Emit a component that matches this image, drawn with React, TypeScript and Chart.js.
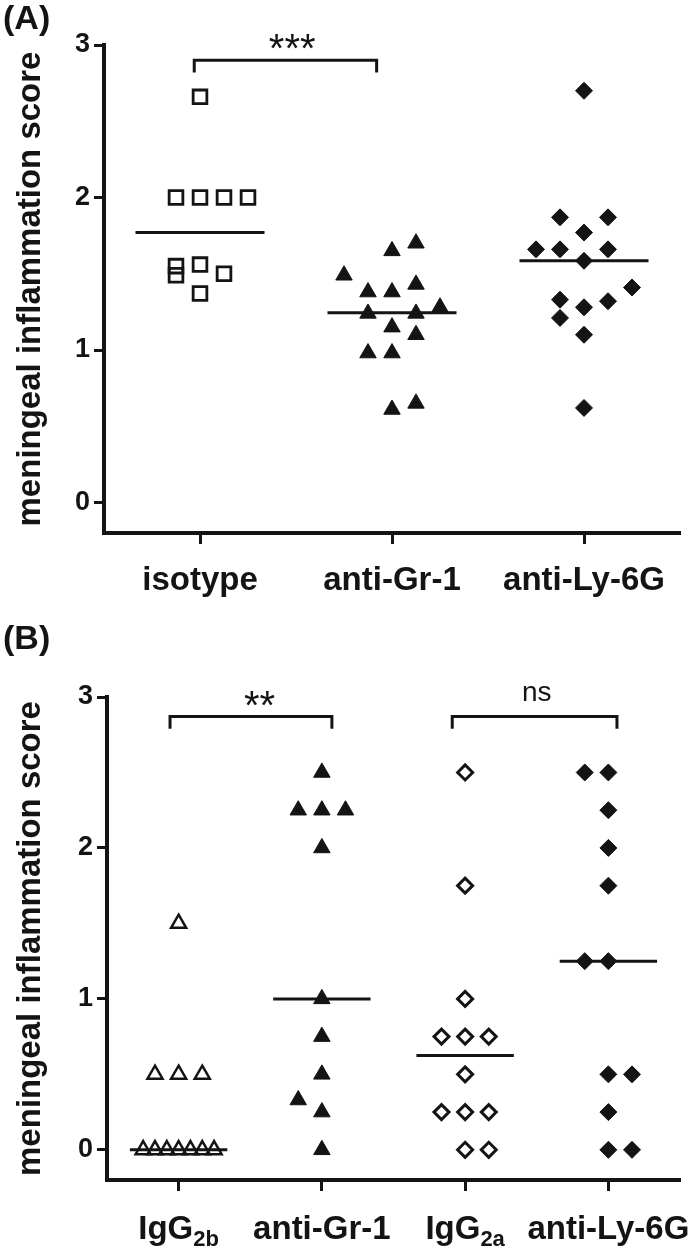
import React, { useEffect, useRef } from 'react';
import { Chart, registerables } from 'chart.js';

Chart.register(...registerables);

const FONT = '"Liberation Sans", Arial, Helvetica, sans-serif';
const INK = '#141414';

// ---------------- Panel A data ----------------
const catsA = ['isotype', 'anti-Gr-1', 'anti-Ly-6G'];
const isotypeVals = [2.66, 2.0, 2.0, 2.0, 2.0, 1.55, 1.49, 1.56, 1.5, 1.37];
const isotypeSlots = [0, -1, 0, 1, 2, -1, -1, 0, 1, 0];
const antiGr1AVals = [1.7, 1.65, 1.49, 1.38, 1.38, 1.43, 1.28, 1.24, 1.24, 1.15, 1.1, 0.98, 0.98, 0.65, 0.61];
const antiGr1ASlots = [1, 0, -2, -1, 0, 1, 2, -1, 1, 0, 1, -1, 0, 1, 0];
const antiLy6GAVals = [2.7, 1.87, 1.87, 1.77, 1.66, 1.66, 1.66, 1.585, 1.41, 1.33, 1.32, 1.28, 1.21, 1.1, 0.62];
const antiLy6GASlots = [0, -1, 1, 0, -2, -1, 1, 0, 2, -1, 1, 0, -1, 0, 0];
const meansA = [1.77, 1.245, 1.585];

// ---------------- Panel B data ----------------
const catsB = ['IgG', 'anti-Gr-1', 'IgG', 'anti-Ly-6G'];
const catsBSub = ['2b', '', '2a', ''];
const igG2bVals = [1.5, 0.5, 0.5, 0.5, 0, 0, 0, 0, 0, 0, 0];
const igG2bSlots = [0, -1, 0, 1, -1.5, -1, -0.5, 0, 0.5, 1, 1.5];
const antiGr1BVals = [2.5, 2.25, 2.25, 2.25, 2.0, 1.0, 0.75, 0.5, 0.33, 0.25, 0];
const antiGr1BSlots = [0, -1, 0, 1, 0, 0, 0, 0, -1, 0, 0];
const igG2aVals = [2.5, 1.75, 1.0, 0.75, 0.75, 0.75, 0.5, 0.25, 0.25, 0.25, 0, 0];
const igG2aSlots = [0, 0, 0, -1, 0, 1, 0, -1, 0, 1, 0, 1];
const antiLy6GBVals = [2.5, 2.5, 2.25, 2.0, 1.75, 1.25, 1.25, 0.5, 0.5, 0.25, 0, 0];
const antiLy6GBSlots = [-1, 0, 0, 0, 0, -1, 0, 0, 1, 0, 0, 1];
const meansB = [0, 1.0, 0.625, 1.25];

const yTickValues = [0, 1, 2, 3];
const yTitle = 'meningeal inflammation score';

type Group = { vals: number[]; slots: number[]; style: string; radius: number; open: boolean; bw: number };
type Bracket = { x1: number; x2: number; top: number; end: number };
type Note = { text: string; x: number; y: number; font: string };
type Spec = {
  cats: string[];
  subs?: string[];
  groups: Group[];
  means: number[];
  slotStep: number;
  meanHalf: number;
  brackets: Bracket[];
  notes: Note[];
  panel: string;
  height: number;
  padTop: number;
  axisH: number;
  axisW: number;
  padRight: number;
  labelPad: number;
  subBaseline: number;
};

const specA: Spec = {
  cats: catsA,
  groups: [
    { vals: isotypeVals, slots: isotypeSlots, style: 'rect', radius: 9.7, open: true, bw: 2.8 },
    { vals: antiGr1AVals, slots: antiGr1ASlots, style: 'triangle', radius: 9.5, open: false, bw: 1 },
    { vals: antiLy6GAVals, slots: antiLy6GASlots, style: 'rectRot', radius: 8.5, open: false, bw: 1 },
  ],
  means: meansA,
  slotStep: 0.125,
  meanHalf: 0.336,
  brackets: [{ x1: -0.03, x2: 0.92, top: 2.9, end: 2.82 }],
  notes: [{ text: '***', x: 0.48, y: 3.02, font: `40px ${FONT}` }],
  panel: '(A)',
  height: 620,
  padTop: 45,
  axisH: 87,
  axisW: 104,
  padRight: 20,
  labelPad: 17,
  subBaseline: 0,
};

const specB: Spec = {
  cats: catsB,
  subs: catsBSub,
  groups: [
    { vals: igG2bVals, slots: igG2bSlots, style: 'triangle', radius: 8.7, open: true, bw: 2.5 },
    { vals: antiGr1BVals, slots: antiGr1BSlots, style: 'triangle', radius: 9.5, open: false, bw: 1 },
    { vals: igG2aVals, slots: igG2aSlots, style: 'rectRot', radius: 7.5, open: true, bw: 3 },
    { vals: antiLy6GBVals, slots: antiLy6GBSlots, style: 'rectRot', radius: 8.5, open: false, bw: 1 },
  ],
  means: meansB,
  slotStep: 0.165,
  meanHalf: 0.34,
  brackets: [
    { x1: -0.06, x2: 1.07, top: 2.87, end: 2.79 },
    { x1: 1.91, x2: 3.06, top: 2.87, end: 2.79 },
  ],
  notes: [
    { text: '**', x: 0.565, y: 2.99, font: `40px ${FONT}` },
    { text: 'ns', x: 2.5, y: 3.02, font: `28px ${FONT}` },
  ],
  panel: '(B)',
  height: 629,
  padTop: 77,
  axisH: 69,
  axisW: 107,
  padRight: 20,
  labelPad: 17,
  subBaseline: 59,
};

function makeConfig(spec: Spec): any {
  const datasets: any[] = [];
  spec.groups.forEach((g, i) => {
    datasets.push({
      type: 'scatter',
      data: g.vals.map((v, k) => ({ x: i + g.slots[k] * spec.slotStep, y: v })),
      pointStyle: g.style,
      pointRadius: g.radius,
      pointHoverRadius: g.radius,
      pointBorderWidth: g.bw,
      pointBorderColor: INK,
      pointBackgroundColor: g.open ? 'rgba(0,0,0,0)' : INK,
      showLine: false,
      clip: false,
    });
  });
  spec.means.forEach((m, i) => {
    datasets.push({
      type: 'scatter',
      data: [
        { x: i - spec.meanHalf, y: m },
        { x: i + spec.meanHalf, y: m },
      ],
      showLine: true,
      borderColor: INK,
      borderWidth: 3,
      pointRadius: 0,
      fill: false,
      clip: false,
    });
  });
  spec.brackets.forEach((b) => {
    datasets.push({
      type: 'scatter',
      data: [
        { x: b.x1, y: b.end },
        { x: b.x1, y: b.top },
        { x: b.x2, y: b.top },
        { x: b.x2, y: b.end },
      ],
      showLine: true,
      borderColor: INK,
      borderWidth: 3,
      borderJoinStyle: 'miter',
      pointRadius: 0,
      fill: false,
      clip: false,
    });
  });

  const annotate = {
    id: 'annotate',
    afterDraw(chart: any) {
      const { ctx } = chart;
      const xs = chart.scales.x;
      const ys = chart.scales.y;
      ctx.save();
      ctx.fillStyle = INK;
      ctx.textAlign = 'center';
      ctx.textBaseline = 'alphabetic';
      spec.notes.forEach((n) => {
        ctx.font = n.font;
        const m = ctx.measureText(n.text);
        const cx = xs.getPixelForValue(n.x);
        const cy = ys.getPixelForValue(n.y);
        ctx.fillText(n.text, cx, cy + (m.actualBoundingBoxAscent - m.actualBoundingBoxDescent) / 2);
      });
      // panel letter
      ctx.textAlign = 'left';
      ctx.font = `bold 34px ${FONT}`;
      const pm = ctx.measureText(spec.panel);
      ctx.fillText(spec.panel, 3, 5 + pm.actualBoundingBoxAscent);
      // category labels with subscripts
      if (spec.subs) {
        const base = xs.top + spec.subBaseline;
        spec.cats.forEach((c, i) => {
          const sub = spec.subs![i];
          ctx.font = `bold 33px ${FONT}`;
          const w1 = ctx.measureText(c).width;
          ctx.font = `bold 22px ${FONT}`;
          const w2 = sub ? ctx.measureText(sub).width : 0;
          const x0 = xs.getPixelForValue(i) - (w1 + w2) / 2;
          ctx.textAlign = 'left';
          ctx.font = `bold 33px ${FONT}`;
          ctx.fillText(c, x0, base);
          if (sub) {
            ctx.font = `bold 22px ${FONT}`;
            ctx.fillText(sub, x0 + w1, base + 7);
          }
        });
      }
      ctx.restore();
    },
  };

  const n = spec.cats.length;
  return {
    type: 'scatter',
    data: { datasets },
    options: {
      responsive: false,
      maintainAspectRatio: false,
      animation: false,
      devicePixelRatio: 1,
      events: [],
      layout: { padding: { top: spec.padTop, right: spec.padRight, bottom: 0, left: 0 } },
      plugins: { legend: { display: false }, tooltip: { enabled: false } },
      scales: {
        x: {
          type: 'linear',
          min: -0.5,
          max: n - 0.5,
          afterBuildTicks: (s: any) => {
            s.ticks = spec.cats.map((_, i) => ({ value: i }));
          },
          afterFit: (s: any) => {
            s.height = spec.axisH;
          },
          grid: {
            display: true,
            drawOnChartArea: false,
            drawTicks: true,
            tickLength: 11,
            tickWidth: 3,
            tickColor: INK,
          },
          border: { display: true, width: 4, color: INK },
          ticks: {
            display: !spec.subs,
            autoSkip: false,
            maxRotation: 0,
            minRotation: 0,
            padding: spec.labelPad,
            color: INK,
            font: { family: FONT, size: 33, weight: 'bold' },
            callback: (v: any) => spec.cats[Math.round(Number(v))] ?? '',
          },
        },
        y: {
          type: 'linear',
          min: -0.2,
          max: 3,
          afterBuildTicks: (s: any) => {
            s.ticks = yTickValues.map((v) => ({ value: v }));
          },
          afterFit: (s: any) => {
            s.width = spec.axisW;
          },
          grid: {
            display: true,
            drawOnChartArea: false,
            drawTicks: true,
            tickLength: 10,
            tickWidth: 3,
            tickColor: INK,
          },
          border: { display: true, width: 4, color: INK },
          ticks: {
            padding: 4,
            color: INK,
            font: { family: FONT, size: 27, weight: 'bold' },
            callback: (v: any) => String(v),
          },
          title: {
            display: true,
            text: yTitle,
            color: INK,
            font: { family: FONT, size: 33, weight: 'bold' },
            padding: { top: 11, bottom: 0 },
          },
        },
      },
    },
    plugins: [annotate],
  };
}

function Panel({ spec }: { spec: Spec }) {
  const ref = useRef<HTMLCanvasElement | null>(null);
  useEffect(() => {
    if (!ref.current) return;
    const chart = new Chart(ref.current, makeConfig(spec));
    return () => chart.destroy();
  }, [spec]);
  return (
    <canvas
      ref={ref}
      width={700}
      height={spec.height}
      style={{ display: 'block', width: 700, height: spec.height }}
    />
  );
}

export default function App() {
  return (
    <div
      style={{
        position: 'absolute',
        left: 0,
        top: 0,
        width: 700,
        height: 1249,
        background: '#ffffff',
        overflow: 'hidden',
      }}
    >
      <Panel spec={specA} />
      <Panel spec={specB} />
    </div>
  );
}
